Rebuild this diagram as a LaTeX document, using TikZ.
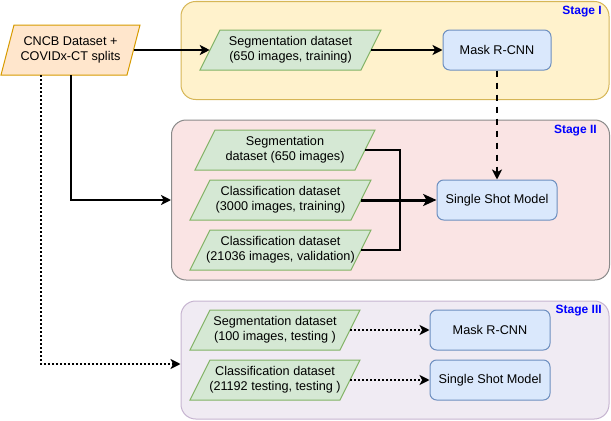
\documentclass[tikz,border=0pt]{standalone}
\usepackage{fontspec}
\setmainfont{Liberation Sans}
\usetikzlibrary{arrows.meta}
\definecolor{orfill}{HTML}{FFE6CC}
\definecolor{ordraw}{HTML}{D79B00}
\definecolor{grfill}{HTML}{D5E8D4}
\definecolor{grdraw}{HTML}{82B366}
\definecolor{blfill}{HTML}{DAE8FC}
\definecolor{bldraw}{HTML}{6C8EBF}
\definecolor{s1fill}{HTML}{FFF2CC}
\definecolor{s1draw}{HTML}{D6B656}
\definecolor{s2fill}{HTML}{FAE4E4}
\definecolor{s2draw}{HTML}{8A8A8A}
\definecolor{s3fill}{HTML}{F0EBF3}
\definecolor{s3draw}{HTML}{C6B4D0}
\definecolor{lblblue}{HTML}{0000FF}
\tikzset{
  txt/.style={align=center, font=\fontsize{9.5}{11.25}\selectfont, inner sep=0pt, text=black},
  orshape/.style={fill=orfill, draw=ordraw, line width=0.75pt},
  grshape/.style={fill=grfill, draw=grdraw, line width=0.75pt},
  modelbox/.style={txt, draw=bldraw, fill=blfill, rounded corners=5pt, line width=0.75pt, minimum height=30pt},
  stagebox/.style={rounded corners=11pt, line width=0.75pt, inner sep=0pt},
  stagelbl/.style={font=\bfseries\fontsize{9}{10.8}\selectfont, text=lblblue, inner sep=0pt, anchor=east},
  conn/.style={line width=1.5pt, -{Stealth[length=7.5pt,width=7.5pt,inset=2pt]}},
  plainline/.style={line width=1.5pt},
  bigconn/.style={line width=2.25pt, -{Stealth[length=10pt,width=9pt,inset=2.5pt]}},
  dashconn/.style={conn, dash pattern=on 4.5pt off 4.5pt},
  dotconn/.style={conn, dash pattern=on 1.5pt off 1.5pt},
}
% parallelogram: style, name, cx, cy, w, h, skew, text
\newcommand{\paranode}[8]{%
  \draw[#1] ({#3-#5/2},{#4+#6/2}) -- ({#3-#5/2+#7},{#4-#6/2}) -- ({#3+#5/2},{#4-#6/2}) -- ({#3+#5/2-#7},{#4+#6/2}) -- cycle;
  \node[txt, minimum width={(#5-#7)*0.75pt}, minimum height={#6*0.75pt}] (#2) at (#3,#4) {#8};
}
\begin{document}
\begin{tikzpicture}[x=0.75pt,y=-0.75pt]
\useasboundingbox (0,0) rectangle (611,421);
% stages
\node[stagebox, fill=s1fill, draw=s1draw, minimum width=321pt, minimum height=73.5pt] (s1) at (395,50.5) {};
\node[stagebox, fill=s2fill, draw=s2draw, minimum width=328.5pt, minimum height=120pt] (s2) at (390.5,200) {};
\node[stagebox, fill=s3fill, draw=s3draw, minimum width=321pt, minimum height=88.5pt] (s3) at (395,360) {};
\node[stagelbl] (l1) at (602,12) {Stage I};
\node[stagelbl] (l2) at (597,131) {Stage II};
\node[stagelbl] (l3) at (602,311) {Stage III};
% source
\paranode{orshape}{src}{70.5}{50}{139}{50}{13}{CNCB Dataset +\\COVIDx-CT splits}
% stage I
\paranode{grshape}{seg1}{290.5}{50}{181}{40}{20}{Segmentation dataset\\(650 images, training)}
\node[modelbox, minimum width=81pt] (mask1) at (497,50) {Mask R-CNN};
% stage II
\paranode{grshape}{seg2}{285}{150}{180}{40}{20}{Segmentation\\dataset (650 images)}
\paranode{grshape}{cls2}{280.5}{200}{181}{40}{20}{Classification dataset\\(3000 images, training)}
\paranode{grshape}{val2}{280.5}{250}{181}{40}{20}{Classification dataset\\(21036 images, validation)}
\node[modelbox, minimum width=90pt] (ssm2) at (497,200) {Single Shot Model};
% stage III
\paranode{grshape}{seg3}{275}{330}{170}{40}{20}{Segmentation dataset\\(100 images, testing )}
\paranode{grshape}{cls3}{275}{380}{170}{40}{20}{Classification dataset\\(21192 testing, testing )}
\node[modelbox, minimum width=90pt] (mask3) at (490,330) {Mask R-CNN};
\node[modelbox, minimum width=90pt] (ssm3) at (490,380) {Single Shot Model};
% connectors
\draw[conn] (src.east) -- (seg1.west);
\draw[conn] (seg1.east) -- (mask1.west);
\draw[dashconn] (mask1.south) -- (ssm2.north);
\draw[conn] (src.south) |- (s2.west);
\draw[dotconn] ([xshift=-22.5pt]src.south) |- ([yshift=-3pt]s3.west);
\coordinate (join) at (400,200);
\draw[plainline] (seg2.east) -| (join);
\draw[plainline] (val2.east) -| (join);
\draw[bigconn] (cls2.east) -- (ssm2.west);
\draw[dotconn] (seg3.east) -- (mask3.west);
\draw[dotconn] (cls3.east) -- (ssm3.west);
\end{tikzpicture}
\end{document}
